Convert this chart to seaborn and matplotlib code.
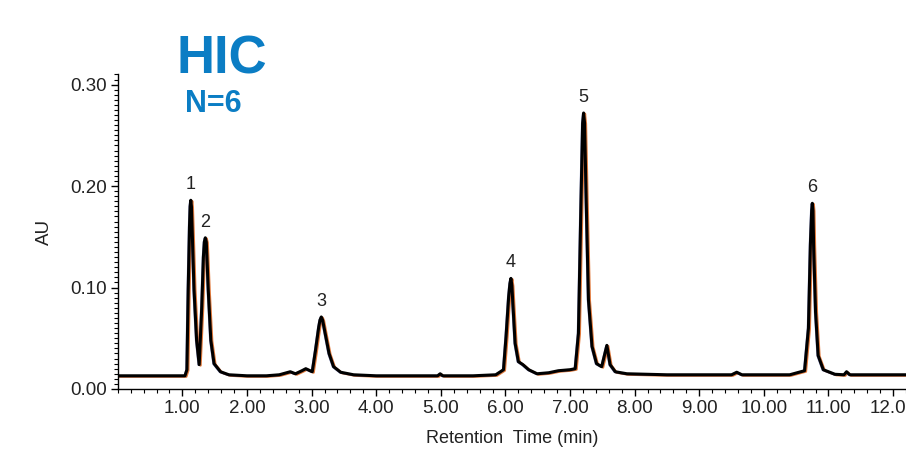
import numpy as np
import pandas as pd
import seaborn as sns
import matplotlib.pyplot as plt
from matplotlib.ticker import MultipleLocator, FormatStrFormatter
import matplotlib.transforms as mtransforms

# chromatogram trace (retention time in min, absorbance in AU)
zaman = [0.00, 0.50, 1.00, 1.04, 1.07, 1.09, 1.11, 1.12, 1.13, 1.14, 1.15, 1.18, 1.22, 1.26,
         1.30, 1.325, 1.34, 1.355, 1.37, 1.38, 1.40, 1.44, 1.49, 1.59, 1.72, 2.00, 2.30, 2.50,
         2.67, 2.75, 2.85, 2.91, 3.01, 3.06, 3.11, 3.13, 3.15, 3.17, 3.20, 3.27, 3.34, 3.45,
         3.65, 4.00, 4.50, 4.95, 4.99, 5.03, 5.50, 5.85, 5.97, 6.01, 6.05, 6.07, 6.085,
         6.10, 6.115, 6.15, 6.20, 6.27, 6.36, 6.49, 6.67, 6.82, 7.00, 7.08, 7.13, 7.17,
         7.195, 7.21, 7.225, 7.25, 7.285, 7.34, 7.41, 7.49, 7.57, 7.62, 7.70, 7.88, 8.50, 9.00,
         9.50, 9.58, 9.66, 10.40, 10.63, 10.69, 10.72, 10.74, 10.75, 10.76, 10.77, 10.80, 10.84,
         10.92, 11.10, 11.24, 11.28, 11.33, 12.20]
au = [0.013, 0.013, 0.013, 0.013, 0.019, 0.098, 0.160, 0.180, 0.186, 0.180, 0.160, 0.098, 0.048, 0.024,
      0.081, 0.130, 0.145, 0.149, 0.145, 0.130, 0.098, 0.048, 0.025, 0.017, 0.014, 0.013, 0.013, 0.014,
      0.017, 0.015, 0.018, 0.020, 0.017, 0.038, 0.061, 0.068, 0.071, 0.068, 0.058, 0.035, 0.022, 0.0165,
      0.014, 0.013, 0.013, 0.013, 0.015, 0.013, 0.013, 0.014, 0.019, 0.052, 0.091, 0.104, 0.109,
      0.102, 0.084, 0.045, 0.027, 0.024, 0.019, 0.015, 0.016, 0.018, 0.019, 0.020, 0.055, 0.186,
      0.262, 0.272, 0.262, 0.186, 0.088, 0.042, 0.025, 0.022, 0.043, 0.024, 0.017, 0.015, 0.014, 0.014,
      0.014, 0.0165, 0.014, 0.014, 0.018, 0.060, 0.142, 0.176, 0.183, 0.176, 0.142, 0.076, 0.033,
      0.019, 0.0145, 0.014, 0.017, 0.014, 0.014]

# tepe etiketleri
tepe_no = ["1", "2", "3", "4", "5", "6"]
tepe_zaman = [1.13, 1.355, 3.15, 6.085, 7.21, 10.75]
tepe_au = [0.186, 0.149, 0.071, 0.109, 0.272, 0.183]

df = pd.DataFrame({"Retention Time (min)": zaman, "AU": au})

sns.set_style("ticks")
plt.rcParams['font.family'] = ['Liberation Sans', 'DejaVu Sans']

fig = plt.figure(figsize=(9.06, 4.5), dpi=100)
ax = fig.add_axes([0.130, 0.1356, 0.870, 0.699])

# overlay runs peeking out from under the black trace
kaydir1 = mtransforms.ScaledTranslation(1.3 / 100, -0.8 / 100, fig.dpi_scale_trans)
kaydir2 = mtransforms.ScaledTranslation(-0.8 / 100, -0.5 / 100, fig.dpi_scale_trans)
sns.lineplot(data=df, x="Retention Time (min)", y="AU", ax=ax, color="#e0783a",
             linewidth=1.8, estimator=None, sort=False,
             transform=ax.transData + kaydir1)
sns.lineplot(data=df, x="Retention Time (min)", y="AU", ax=ax, color="#3b4aa0",
             linewidth=1.3, estimator=None, sort=False, alpha=0.6,
             transform=ax.transData + kaydir2)
sns.lineplot(data=df, x="Retention Time (min)", y="AU", ax=ax, color="black",
             linewidth=2.2, estimator=None, sort=False)

for no, t, h in zip(tepe_no, tepe_zaman, tepe_au):
    ax.annotate(no, (t, h), xytext=(0, 5), textcoords="offset points",
                ha="center", va="bottom", fontsize=13, color="#222222")

ax.set_xlim(0, 12.2)
ax.set_ylim(0, 0.31)
ax.xaxis.set_minor_locator(MultipleLocator(0.2))
ax.yaxis.set_major_locator(MultipleLocator(0.1))
ax.yaxis.set_minor_locator(MultipleLocator(0.005))
ax.xaxis.set_major_formatter(FormatStrFormatter("%.2f"))
ax.yaxis.set_major_formatter(FormatStrFormatter("%.2f"))
ax.set_xticks([1, 2, 3, 4, 5, 6, 7, 8, 9, 10, 11, 12])
ax.tick_params(which="major", length=5, width=1, labelsize=13.5, colors="black",
               labelcolor="#222222", pad=3)
ax.tick_params(which="minor", length=3, width=0.8, colors="black")
for s in ["top", "right"]:
    ax.spines[s].set_visible(False)
for s in ["left", "bottom"]:
    ax.spines[s].set_linewidth(1.0)
    ax.spines[s].set_color("black")

ax.set_xlabel("Retention  Time (min)", fontsize=13, color="#222222", labelpad=9)
ax.set_ylabel("AU", fontsize=13.5, color="#222222", labelpad=12)

mavi = "#0b7dc4"
fig.text(177 / 906, 1 - 73 / 450, "HIC", fontsize=38, fontweight="bold",
         color=mavi, ha="left", va="baseline")
fig.text(185 / 906, 1 - 112 / 450, "N=6", fontsize=22, fontweight="bold",
         color=mavi, ha="left", va="baseline")

fig.savefig("out.png", dpi=100)
